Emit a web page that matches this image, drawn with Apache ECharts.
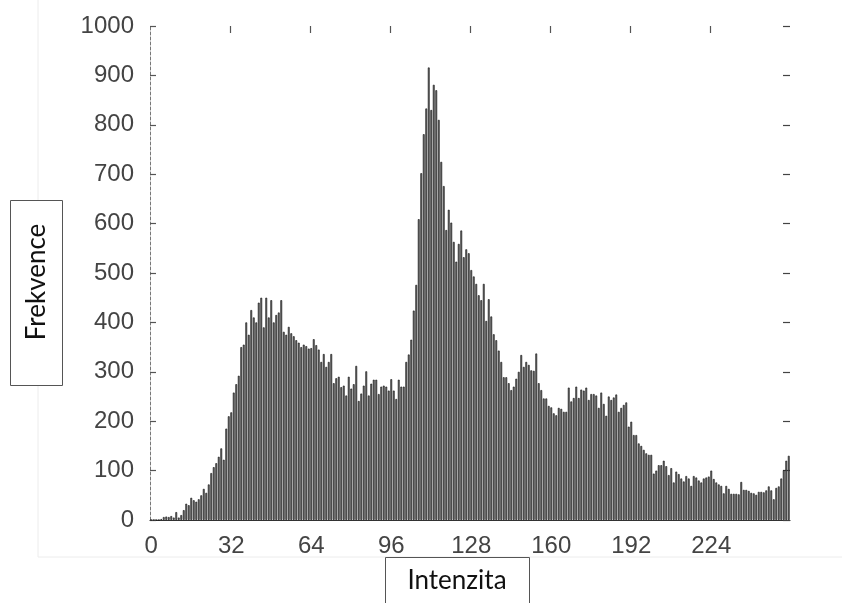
<!DOCTYPE html>
<html>
<head>
<meta charset="utf-8">
<script src="https://cdn.jsdelivr.net/npm/echarts@6/dist/echarts.min.js"></script>
<style>html,body{margin:0;padding:0;background:#fff}#c{width:842px;height:603px}</style>
</head>
<body>
<div id="c"></div>
<script>
// histogram bins 0..255
var categories = [];
for (var k = 0; k < 256; k++) categories.push(String(k));

var frequencies = [
  0,0,0,0,2,6,7,6,8,5, 16,5,10,20,33,30,45,40,37,42,
  50,63,55,72,95,107,115,128,145,122, 185,210,218,258,275,292,350,355,400,375,
  425,410,400,440,450,390,450,410,445,400, 415,420,445,381,375,391,378,372,364,359,
  350,355,352,347,348,366,354,345,320,336, 310,320,336,277,287,290,269,272,252,290,
  266,275,312,241,256,272,301,252,276,284, 284,255,270,272,270,262,285,262,245,284,
  270,270,320,335,365,424,476,609,702,781, 833,916,830,881,870,810,725,676,587,628,
  602,563,523,559,586,532,548,540,506,493, 478,455,445,478,403,447,412,376,364,343,
  320,289,289,277,263,270,286,300,334,310, 320,314,303,302,337,277,263,246,246,231,
  228,216,212,227,225,219,219,268,240,247, 270,247,264,262,268,243,255,255,252,227,
  258,235,211,250,243,248,254,219,227,233, 238,189,199,172,172,155,150,142,135,132,
  132,94,100,111,111,120,109,91,105,76, 98,93,84,78,89,84,69,89,86,80,
  76,84,86,88,100,83,76,72,69,54, 69,63,53,53,53,52,77,61,61,59,
  55,54,51,57,57,56,60,68,60,42, 65,68,84,101,120,130
];

var xTickLabels = ['0','32','64','96','128','160','192','224'];
var topTickValues = [32,64,96,128,160,192,224];
var xTitle = 'Intenzita';
var yTitle = 'Frekvence';

var chart = echarts.init(document.getElementById('c'), null, {renderer:'canvas'});
var labelFont = '"Liberation Sans", Arial, sans-serif';
chart.setOption({
  animation: false,
  backgroundColor: '#fff',
  grid: {left: 150, right: 52, top: 26, bottom: 83, containLabel: false},
  xAxis: [{
    type: 'category',
    data: categories,
    boundaryGap: true,
    axisLine: {show: true, onZero: false, lineStyle: {color: '#333', width: 1.2}},
    axisTick: {show: false},
    axisLabel: {
      interval: function (i) { return xTickLabels.indexOf(String(i)) >= 0; },
      margin: 14, fontSize: 24, color: '#444', fontFamily: labelFont
    },
    splitLine: {show: false}
  }, {
    type: 'value',
    min: 0, max: 256, interval: 32,
    position: 'top',
    axisLine: {show: false, onZero: false},
    axisTick: {show: true, inside: true, length: 7, customValues: topTickValues,
      lineStyle: {color: '#555', width: 1.2}},
    axisLabel: {show: false},
    splitLine: {show: false}
  }],
  yAxis: [{
    type: 'value', min: 0, max: 1000, interval: 100,
    axisLine: {show: true, onZero: false, lineStyle: {color: '#777', width: 1, type: [3, 2]}},
    axisTick: {show: true, inside: true, length: 6, lineStyle: {color: '#555', width: 1.2}},
    axisLabel: {margin: 16, fontSize: 24, color: '#444', fontFamily: labelFont,
      formatter: function (v) { return String(v); }},
    splitLine: {show: false}
  }, {
    type: 'value', min: 0, max: 1000, interval: 100, position: 'right',
    axisLine: {show: false, onZero: false},
    axisTick: {show: true, inside: true, length: 7, lineStyle: {color: '#444', width: 1.2}},
    axisLabel: {show: false},
    splitLine: {show: false}
  }],
  series: [{
    type: 'bar',
    data: frequencies,
    xAxisIndex: 0, yAxisIndex: 0,
    barWidth: '72%',
    itemStyle: {color: '#747474', borderColor: '#1a1a1a', borderWidth: 0.7}
  }],
  graphic: [
    {type: 'line', shape: {x1: 38, y1: 0, x2: 38, y2: 557}, style: {stroke: '#ececec', lineWidth: 1}},
    {type: 'line', shape: {x1: 38, y1: 557, x2: 842, y2: 557}, style: {stroke: '#ececec', lineWidth: 1}},
    {type: 'rect', shape: {x: 10.5, y: 200.5, width: 52, height: 185}, style: {fill: '#fff', stroke: '#555', lineWidth: 1}},
    {type: 'text', x: 37, y: 282, rotation: Math.PI / 2,
      style: {text: yTitle, font: '26px Lato, "Open Sans", sans-serif', fill: '#111', align: 'center', verticalAlign: 'middle'}},
    {type: 'rect', shape: {x: 385.5, y: 557.5, width: 144, height: 50}, style: {fill: '#fff', stroke: '#555', lineWidth: 1}},
    {type: 'text', x: 457, y: 581,
      style: {text: xTitle, font: '26px Lato, "Open Sans", sans-serif', fill: '#111', align: 'center', verticalAlign: 'middle'}}
  ]
});
</script>
</body>
</html>
